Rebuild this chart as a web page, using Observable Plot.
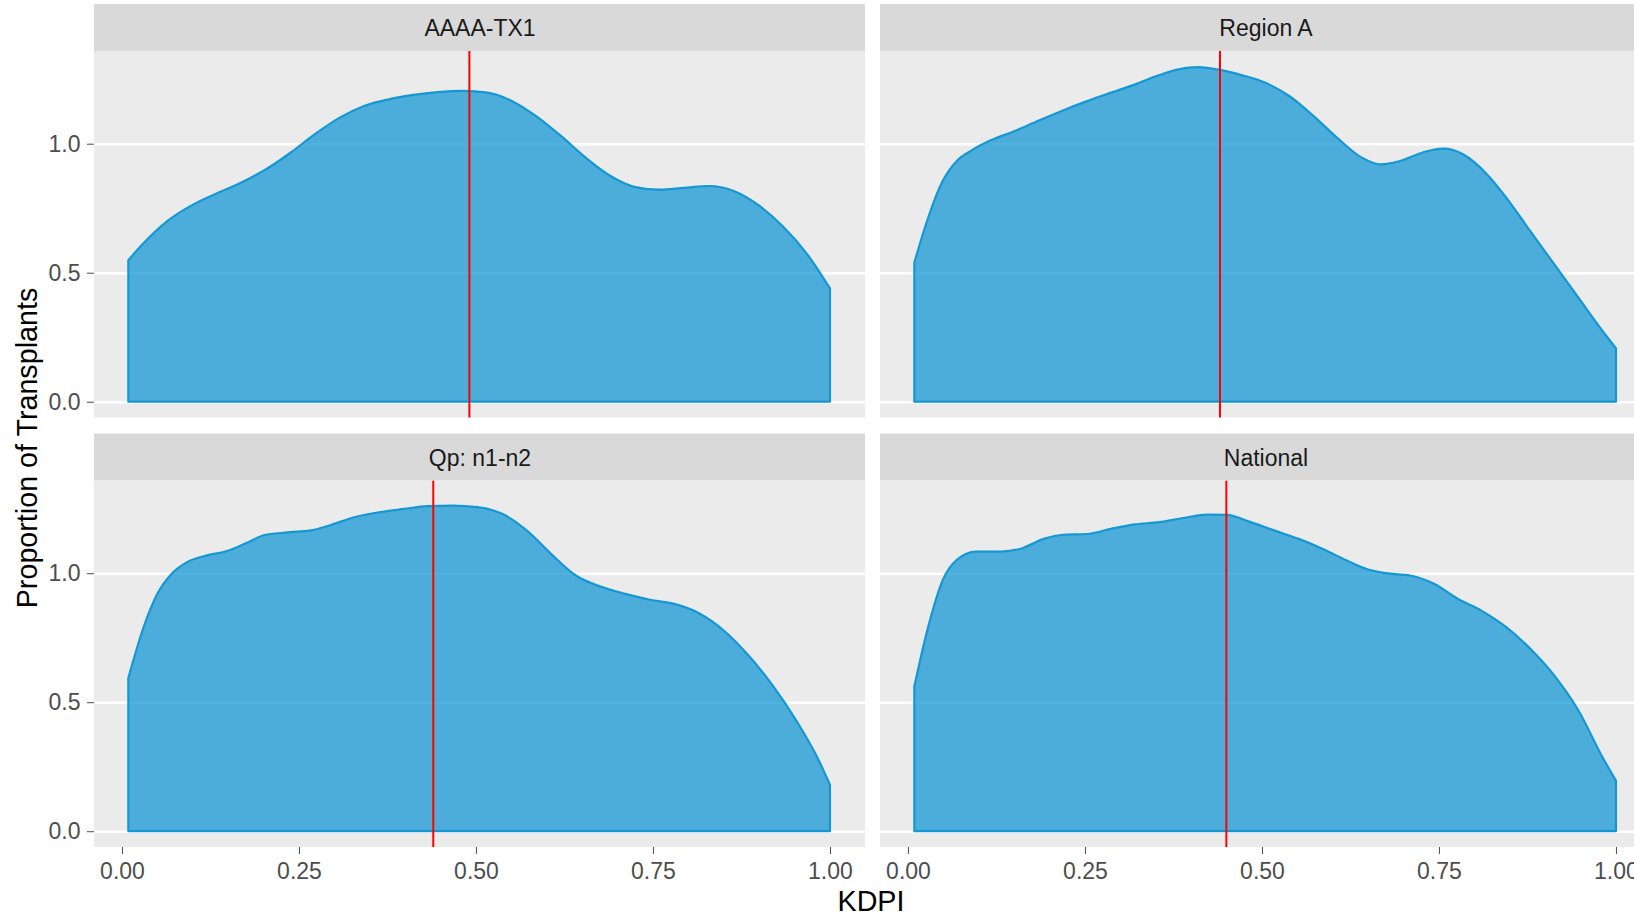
<!DOCTYPE html>
<html>
<head>
<meta charset="utf-8">
<script src="https://cdn.jsdelivr.net/npm/d3@7"></script>
<script src="https://cdn.jsdelivr.net/npm/@observablehq/plot@0.6"></script>
<style>
  html, body { margin: 0; padding: 0; overflow: hidden; background: #ffffff; }
  #chart { position: relative; width: 1634px; height: 914px; overflow: hidden; }
</style>
</head>
<body>
<div id="chart"></div>
<script>
// ---------- data ----------
const panelNames = ["AAAA-TX1", "Region A", "Qp: n1-n2", "National"];
const medianKDPI = [0.490, 0.440, 0.439, 0.449];

const kdpiTX1 = [0.009,0.029,0.064,0.099,0.133,0.168,0.203,0.238,0.272,0.307,0.342,0.377,0.412,0.446,0.481,0.516,0.551,0.585,0.620,0.655,0.690,0.725,0.759,0.794,0.829,0.864,0.899,0.933,0.968,1.000];
const densTX1 = [0.548,0.610,0.700,0.762,0.806,0.849,0.900,0.965,1.036,1.100,1.146,1.172,1.189,1.200,1.205,1.198,1.165,1.107,1.030,0.946,0.875,0.832,0.822,0.829,0.836,0.817,0.762,0.681,0.571,0.439];

const kdpiRegionA = [0.009,0.0285,0.049,0.069,0.090,0.117,0.151,0.185,0.219,0.253,0.287,0.321,0.355,0.382,0.409,0.437,0.471,0.505,0.539,0.573,0.607,0.641,0.668,0.695,0.729,0.757,0.784,0.818,0.845,0.879,0.913,0.947,0.981,1.000];
const densRegionA = [0.539,0.713,0.855,0.933,0.974,1.013,1.049,1.090,1.129,1.165,1.198,1.230,1.266,1.288,1.297,1.288,1.266,1.236,1.184,1.107,1.021,0.946,0.920,0.933,0.968,0.981,0.959,0.881,0.791,0.661,0.532,0.403,0.274,0.207];

const kdpiQp = [0.009,0.029,0.050,0.071,0.092,0.119,0.147,0.175,0.203,0.238,0.265,0.293,0.328,0.363,0.398,0.432,0.467,0.502,0.537,0.572,0.606,0.641,0.676,0.711,0.746,0.780,0.815,0.850,0.885,0.919,0.954,0.982,1.000];
const densQp = [0.594,0.778,0.920,1.000,1.043,1.068,1.085,1.116,1.149,1.159,1.165,1.185,1.217,1.236,1.249,1.260,1.262,1.256,1.230,1.165,1.075,0.991,0.948,0.920,0.897,0.881,0.845,0.778,0.681,0.565,0.422,0.287,0.180];

const kdpiNational = [0.009,0.0285,0.049,0.069,0.096,0.131,0.158,0.192,0.219,0.253,0.287,0.321,0.355,0.389,0.423,0.450,0.484,0.518,0.552,0.586,0.620,0.647,0.674,0.709,0.743,0.777,0.811,0.845,0.879,0.913,0.947,0.981,1.000];
const densNational = [0.561,0.791,0.972,1.052,1.084,1.084,1.094,1.133,1.149,1.152,1.172,1.189,1.198,1.214,1.227,1.226,1.198,1.165,1.133,1.094,1.049,1.017,1.000,0.991,0.959,0.900,0.853,0.791,0.707,0.603,0.468,0.287,0.196];

const xTicks = [0, 0.25, 0.5, 0.75, 1];
const yTicks = [0, 0.5, 1];

// ---------- layout constants ----------
const xDomain = [-0.0395, 1.0495];
const yDomain = [-0.0612, 1.5415];
const stripBottom = 1.3593;

// ---------- tables ----------
const series = [[kdpiTX1, densTX1], [kdpiRegionA, densRegionA], [kdpiQp, densQp], [kdpiNational, densNational]];
const panels = panelNames.map((name, i) => ({name, col: i % 2, row: Math.floor(i / 2), median: medianKDPI[i]}));
const curves = panels.flatMap((p, i) =>
  series[i][0].map((x, j) => ({x, y: series[i][1][j], col: p.col, row: p.row}))
);

const font = "'Liberation Sans', Arial, Helvetica, sans-serif";

const plot = Plot.plot({
  width: 1651,
  height: 914,
  marginTop: 4,
  marginLeft: 94,
  marginRight: 0,
  marginBottom: 67,
  style: {fontFamily: font, fontSize: "23px", color: "#4D4D4D", background: "white", maxWidth: "none"},
  fx: {domain: [0, 1], paddingInner: 15 / 786, paddingOuter: 0, round: false, axis: null, label: null},
  fy: {domain: [0, 1], paddingInner: 16 / 429.5, paddingOuter: 0, round: false, axis: null, label: null},
  x: {domain: xDomain},
  y: {domain: yDomain},
  marks: [
    Plot.rect(panels, {x1: () => xDomain[0], x2: () => xDomain[1], y1: () => yDomain[0], y2: () => stripBottom,
      fx: "col", fy: "row", fill: "#EBEBEB"}),
    Plot.ruleY(yTicks, {stroke: "white", strokeWidth: 2.4}),
    Plot.areaY(curves, {x: "x", y1: 0, y2: "y", fx: "col", fy: "row",
      fill: "#0F94D3", fillOpacity: 0.72, stroke: "#1597D4", strokeWidth: 2.2, curve: "monotone-x"}),
    Plot.ruleX(panels, {x: "median", y1: () => yDomain[0], y2: () => stripBottom, fx: "col", fy: "row",
      stroke: "#FF0000", strokeWidth: 2}),
    Plot.rect(panels, {x1: () => xDomain[0], x2: () => xDomain[1], y1: () => stripBottom, y2: () => yDomain[1],
      fx: "col", fy: "row", fill: "#D9D9D9"}),
    Plot.text(panels, {x: () => (xDomain[0] + xDomain[1]) / 2, y: () => (stripBottom + yDomain[1]) / 2,
      text: "name", fx: "col", fy: "row", fill: "#1A1A1A", dy: 1}),
    Plot.axisY({ticks: yTicks, tickFormat: d3.format(".1f"), tickSize: 7, tickPadding: 7, label: null}),
    Plot.axisX({ticks: xTicks, tickFormat: d3.format(".2f"), tickSize: 7, tickPadding: 8, label: null})
  ]
});

const svg = d3.select(plot);
svg.append("text")
  .attr("x", 871).attr("y", 911)
  .attr("text-anchor", "middle")
  .attr("fill", "#000")
  .style("font-size", "28.7px")
  .text("KDPI");
svg.append("text")
  .attr("transform", "translate(36.5,448) rotate(-90)")
  .attr("text-anchor", "middle")
  .attr("fill", "#000")
  .style("font-size", "28.7px")
  .text("Proportion of Transplants");

document.getElementById("chart").appendChild(plot);
</script>
</body>
</html>
